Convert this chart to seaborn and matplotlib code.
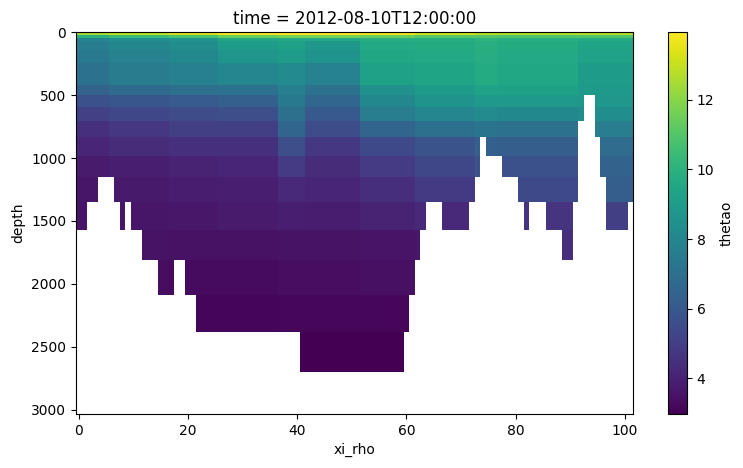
import matplotlib
matplotlib.use("Agg")
import matplotlib.pyplot as plt
import seaborn as sns
import numpy as np

# depth levels (m), the section uses the first 43 levels
depth = [0.494, 1.541, 2.646, 3.819, 5.078, 6.441, 7.930, 9.573, 11.405, 13.467,
         15.810, 18.496, 21.599, 25.211, 29.445, 34.434, 40.344, 47.374, 55.764,
         65.807, 77.854, 92.326, 109.729, 130.666, 155.851, 186.126, 222.475,
         266.040, 318.127, 380.213, 453.938, 541.089, 643.567, 763.333, 902.339,
         1062.440, 1245.291, 1452.251, 1684.284, 1941.893, 2225.078, 2533.336,
         2865.703]
xi_rho = np.arange(102)

# deepest valid level index per column (sea floor)
bottom_level = [37, 37, 36, 36, 35, 35, 35, 36, 37, 36,
                37, 37, 38, 38, 38, 39, 39, 39, 38, 38,
                39, 39, 40, 40, 40, 40, 40, 40, 40, 40,
                40, 40, 40, 40, 40, 40, 40, 40, 40, 40,
                40, 41, 41, 41, 41, 41, 41, 41, 41, 41,
                41, 41, 41, 41, 41, 41, 41, 41, 41, 41,
                40, 39, 38, 37, 36, 36, 36, 37, 37, 37,
                37, 37, 36, 35, 33, 34, 34, 34, 35, 35,
                35, 36, 37, 36, 36, 36, 37, 37, 37, 38,
                38, 36, 32, 30, 30, 33, 35, 37, 37, 37,
                37, 36]

# first column of each along-section segment
seg_start = [0, 6, 17, 26, 37, 42, 52, 62, 73, 77, 92]
# first level of each depth group
group_start = [0, 14, 17, 20, 24, 27, 30, 31, 32, 33, 34, 35, 36, 37, 38, 39, 40, 41, 42]

# temperature (degC) per depth group (rows) and segment (columns)
temp_table = [
    [12.5, 12.9, 13.3, 13.8, 13.9, 13.95, 13.7, 13.2, 12.8, 12.7, 12.8],
    [10.0, 10.4, 10.8, 11.4, 11.6, 11.6, 11.4, 11.0, 11.0, 10.9, 10.9],
    [8.0, 8.4, 8.7, 9.5, 9.6, 9.6, 9.9, 9.9, 10.1, 9.9, 9.7],
    [7.6, 8.0, 8.3, 9.0, 9.2, 8.8, 9.6, 9.7, 9.9, 9.7, 9.4],
    [7.4, 7.8, 8.1, 8.7, 9.0, 8.6, 9.5, 9.6, 9.8, 9.6, 9.3],
    [7.1, 7.5, 7.7, 8.0, 8.2, 7.8, 9.2, 9.4, 9.7, 9.5, 9.0],
    [6.4, 6.7, 7.0, 7.1, 7.7, 7.1, 8.5, 9.0, 9.3, 9.2, 8.9],
    [5.7, 5.9, 6.1, 6.3, 7.4, 6.6, 8.1, 8.6, 8.9, 8.9, 8.8],
    [5.1, 5.3, 5.5, 5.6, 7.0, 6.0, 7.6, 8.0, 8.2, 8.1, 8.3],
    [4.5, 4.7, 5.0, 5.0, 6.5, 5.5, 6.5, 7.0, 7.2, 7.1, 7.6],
    [4.1, 4.3, 4.5, 4.5, 5.6, 4.7, 5.4, 5.8, 6.3, 6.2, 6.8],
    [3.75, 3.9, 4.0, 4.1, 4.9, 4.3, 4.9, 5.3, 5.8, 5.7, 6.4],
    [3.6, 3.7, 3.8, 3.9, 4.2, 4.1, 4.4, 4.8, 5.2, 5.4, 6.2],
    [3.55, 3.6, 3.65, 3.75, 3.9, 3.8, 4.0, 4.2, 4.5, 4.6, 5.0],
    [3.5, 3.5, 3.45, 3.45, 3.5, 3.5, 3.55, 3.6, 4.0, 4.4, 4.5],
    [3.35, 3.35, 3.3, 3.3, 3.35, 3.35, 3.4, 3.4, 3.5, 3.6, 3.6],
    [3.15, 3.15, 3.12, 3.12, 3.15, 3.15, 3.15, 3.2, 3.2, 3.2, 3.2],
    [2.97, 2.97, 2.97, 2.97, 2.97, 2.97, 2.97, 2.97, 2.97, 2.97, 2.97],
    [np.nan] * 11,
]

title = "time = 2012-08-10T12:00:00"


def build_field():
    nlev, ncol = len(depth), len(xi_rho)
    field = np.full((nlev, ncol), np.nan)
    for k in range(nlev):
        g = np.searchsorted(group_start, k, side="right") - 1
        for i in range(ncol):
            s = np.searchsorted(seg_start, i, side="right") - 1
            if k <= bottom_level[i]:
                field[k, i] = temp_table[g][s]
    return np.ma.masked_invalid(field)


def edges(c):
    c = np.asarray(c, dtype=float)
    d = 0.5 * np.diff(c)
    return np.concatenate([[c[0] - d[0]], c[:-1] + d, [c[-1] + d[-1]]])


field = build_field()
cmap = sns.color_palette("viridis", as_cmap=True)

fig = plt.figure(figsize=(7.43, 4.68), dpi=100)
ax = fig.add_axes([0.1023, 0.1154, 0.7497, 0.8162])
cax = fig.add_axes([0.899, 0.1154, 0.0256, 0.8162])

mesh = ax.pcolormesh(edges(xi_rho), edges(depth), field, cmap=cmap,
                     vmin=field.min(), vmax=field.max())
ax.set_xlim(-0.5, 101.5)
ax.set_ylim(edges(depth)[-1], edges(depth)[0])
ax.set_xlabel("xi_rho")
ax.set_ylabel("depth")
ax.set_title(title)

cb = fig.colorbar(mesh, cax=cax)
cb.set_label("thetao")

fig.savefig("out.png", dpi=100)
